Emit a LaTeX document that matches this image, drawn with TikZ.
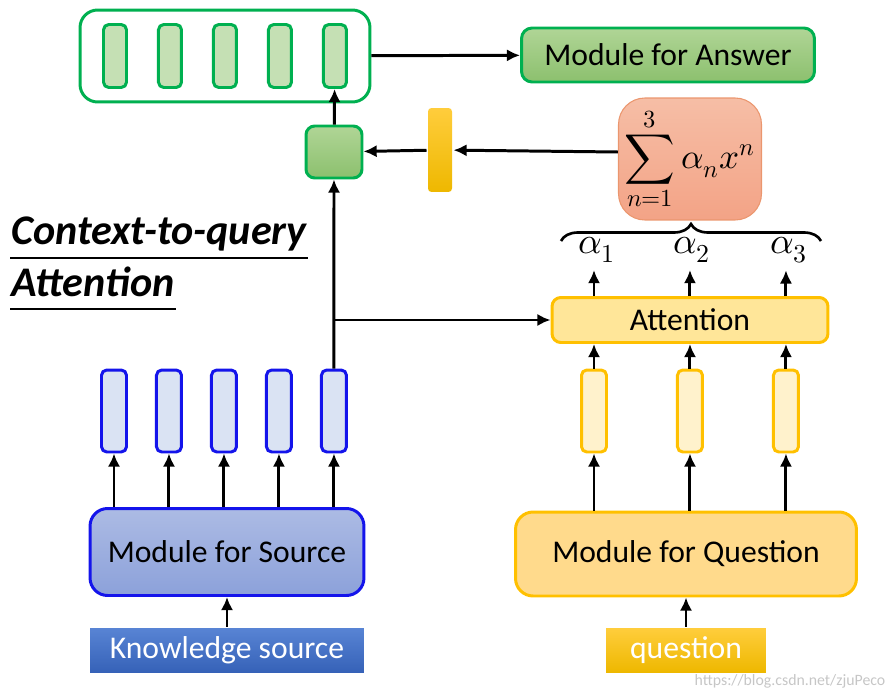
\documentclass[tikz,border=0pt]{standalone}
\usepackage{fontspec}
\usepackage{unicode-math}
\setmainfont{Carlito}
\setmathfont{Latin Modern Math}
\usepackage{tikz}
\usetikzlibrary{shapes}
\usetikzlibrary{arrows.meta}
\usetikzlibrary{positioning}
\usetikzlibrary{calc}
\usetikzlibrary{decorations.pathreplacing}

\definecolor{grn}{RGB}{0,176,80}
\definecolor{grnlight}{RGB}{197,224,180}
\definecolor{grnmid}{RGB}{176,213,150}
\definecolor{grndark}{RGB}{140,192,110}
\definecolor{blu}{RGB}{20,20,235}
\definecolor{blulight}{RGB}{218,227,243}
\definecolor{blumid}{RGB}{172,187,228}
\definecolor{bludark}{RGB}{140,161,218}
\definecolor{knowtop}{RGB}{88,132,212}
\definecolor{knowbot}{RGB}{54,98,184}
\definecolor{gold}{RGB}{255,192,0}
\definecolor{goldtop}{RGB}{255,205,60}
\definecolor{goldbot}{RGB}{238,184,0}
\definecolor{goldlight}{RGB}{255,242,204}
\definecolor{goldmid}{RGB}{255,230,153}
\definecolor{quesfill}{RGB}{255,218,140}
\definecolor{salmontop}{RGB}{246,190,166}
\definecolor{salmonbot}{RGB}{243,163,134}
\definecolor{salmonedge}{RGB}{235,150,110}

\begin{document}
\begin{tikzpicture}
        [x=0.02cm, y=-0.02cm, >={Latex[length=7.5pt,width=7pt]}, line width=1.7pt,
         every node/.style={font=\fontsize{18}{21}\selectfont},
         srcvec/.style={draw=blu, fill=blulight, rounded corners=3pt, minimum width=0.5cm, minimum height=1.64cm, inner sep=0},
         qvec/.style={draw=gold, fill=goldlight, rounded corners=3pt, minimum width=0.5cm, minimum height=1.64cm, inner sep=0},
         outvec/.style={draw=grn, fill=grnlight, rounded corners=3pt, minimum width=0.46cm, minimum height=1.26cm, inner sep=0}]
        \useasboundingbox (0,0) rectangle (890,693);

        % output vectors and answer
        \node [draw=grn, fill=white, rounded corners=10pt, minimum width=5.8cm, minimum height=1.84cm] (outbox) at (225,56) {};
        \node [outvec] (out1) at (115,56) {};
        \node [outvec, right of=out1, node distance=1.1cm] (out2) {};
        \node [outvec, right of=out2, node distance=1.1cm] (out3) {};
        \node [outvec, right of=out3, node distance=1.1cm] (out4) {};
        \node [outvec, right of=out4, node distance=1.1cm] (out5) {};
        \node [draw=grn, top color=grnmid, bottom color=grndark, rounded corners=6pt, minimum width=5.86cm, minimum height=1.08cm] (answer) at (668,55) {Module for Answer};

        \node [draw=grn, top color=grnmid, bottom color=grndark, rounded corners=5pt, minimum width=1.12cm, minimum height=1.04cm, inner sep=0] (merge) at (334,152) {};
        \node [top color=goldtop, bottom color=goldbot, rounded corners=2pt, minimum width=0.48cm, minimum height=1.68cm, inner sep=0] (gold) at (440,150) {};
        \node [draw=salmonedge, line width=0.6pt, top color=salmontop, bottom color=salmonbot, rounded corners=15pt, minimum width=2.86cm, minimum height=2.44cm, font=\fontsize{20}{24}\selectfont] (sum) at (690,159) {$\displaystyle\sum_{n=1}^{3}\alpha_n x^n$};

        % title
        \node [anchor=base west, inner sep=0, font=\fontsize{24}{28}\selectfont\bfseries\itshape] (title1) at (10,244) {Context-to-query};
        \node [anchor=base west, inner sep=0, font=\fontsize{24}{28}\selectfont\bfseries\itshape] (title2) at (10,296) {Attention};
        \draw [line width=0.8pt] ($(title1.base west)+(0,14)$) -- ($(title1.base east)+(0,14)$);
        \draw [line width=0.8pt] ($(title2.base west)+(0,13)$) -- ($(title2.base east)+(0,13)$);

        % attention weights
        \node [font=\fontsize{21}{24}\selectfont] (a1) at (597,250) {$\alpha_1$};
        \node [font=\fontsize{21}{24}\selectfont] (a2) at (692,250) {$\alpha_2$};
        \node [font=\fontsize{21}{24}\selectfont] (a3) at (789,250) {$\alpha_3$};
        \coordinate (brl) at (561,241);
        \coordinate (brr) at (821,241);
        \draw [decorate, decoration={brace, amplitude=0.34cm}, line width=1.5pt] (brl) -- (brr);

        \node [draw=gold, fill=goldmid, rounded corners=5pt, minimum width=5.52cm, minimum height=0.9cm] (att) at (690,320) {Attention};

        % source side
        \node [srcvec] (src1) at (114,411) {};
        \node [srcvec, right of=src1, node distance=1.1cm] (src2) {};
        \node [srcvec, right of=src2, node distance=1.1cm] (src3) {};
        \node [srcvec, right of=src3, node distance=1.1cm] (src4) {};
        \node [srcvec, right of=src4, node distance=1.1cm] (src5) {};
        \node [draw=blu, top color=blumid, bottom color=bludark, rounded corners=10pt, minimum width=5.48cm, minimum height=1.74cm] (srcmod) at (227,552) {Module for Source};
        \node [top color=knowtop, bottom color=knowbot, text=white, minimum width=5.48cm, minimum height=0.88cm] (know) at (227,650) {Knowledge source};

        % question side
        \node [qvec] (q1) at (594,411) {};
        \node [qvec, right of=q1, node distance=1.92cm] (q2) {};
        \node [qvec, right of=q2, node distance=1.92cm] (q3) {};
        \node [draw=gold, fill=quesfill, rounded corners=10pt, minimum width=6.82cm, minimum height=1.68cm] (qmod) at (686,554) {Module for Question};
        \node [top color=goldtop, bottom color=goldbot, text=white, minimum width=3.2cm, minimum height=0.88cm] (ques) at (686,650) {question};

        \node [text=gray!45, font=\fontsize{9}{10}\selectfont] (mark) at (790,681) {https://blog.csdn.net/zjuPeco};

        \draw [->] (know) -- (srcmod);
        \draw [->] (src1 |- srcmod.north) -- (src1);
        \draw [->] (src2 |- srcmod.north) -- (src2);
        \draw [->] (src3 |- srcmod.north) -- (src3);
        \draw [->] (src4 |- srcmod.north) -- (src4);
        \draw [->] (src5 |- srcmod.north) -- (src5);

        \draw [->] (ques) -- (qmod);
        \draw [->] (q1 |- qmod.north) -- (q1);
        \draw [->] (q2 |- qmod.north) -- (q2);
        \draw [->] (q3 |- qmod.north) -- (q3);
        \draw [->] (q1) -- (q1 |- att.south);
        \draw [->] (q2) -- (q2 |- att.south);
        \draw [->] (q3) -- (q3 |- att.south);
        \draw [->] (q1 |- att.north) -- (q1 |- a1.south);
        \draw [->] (q2 |- att.north) -- (q2 |- a2.south);
        \draw [->] (q3 |- att.north) -- (q3 |- a3.south);

        \coordinate (junc) at (src5 |- att);
        \draw [->] (src5) -- (merge);
        \draw [->] (junc) -- (att);
        \draw [->] (sum.west |- merge) -- (gold);
        \draw [->] (gold) -- (merge);
        \draw [->] (merge) -- (out5);
        \draw [->] (outbox) -- (answer);
    \end{tikzpicture}
\end{document}
